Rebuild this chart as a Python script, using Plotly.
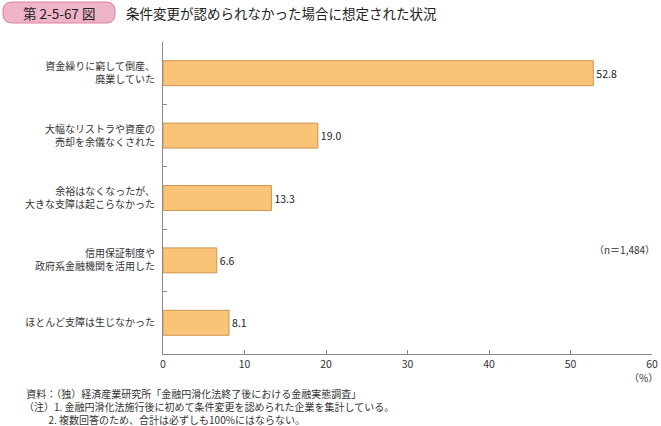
import plotly.graph_objects as go

categories = [
    "資金繰りに窮して倒産、<br>廃業していた",
    "大幅なリストラや資産の<br>売却を余儀なくされた",
    "余裕はなくなったが、<br>大きな支障は起こらなかった",
    "信用保証制度や<br>政府系金融機関を活用した",
    "ほとんど支障は生じなかった",
]
values = [52.8, 19.0, 13.3, 6.6, 8.1]
value_labels = ["52.8", "19.0", "13.3", "6.6", "8.1"]
x_ticks = [0, 10, 20, 30, 40, 50, 60]

FONT = "Noto Sans CJK JP"
TXT = "#333333"
AX = "#8a8a8a"
L, T, W, H = 163, 42, 489, 312  # plot area in pixels


def px(x):
    return (x - L) / W


def py(y):
    return 1 - (y - T) / H


fig = go.Figure()
fig.add_trace(go.Bar(
    y=categories, x=values, orientation="h",
    marker=dict(color="#F9C477", line=dict(color="#CF9550", width=1)),
    width=0.4,
    text=value_labels, textposition="outside",
    textfont=dict(family=FONT, size=10.5, color="#222222"),
    cliponaxis=False, hoverinfo="skip",
))

fig.update_layout(
    width=661, height=426,
    margin=dict(l=L, r=661 - L - W, t=T, b=426 - T - H, autoexpand=False),
    paper_bgcolor="white", plot_bgcolor="white",
    showlegend=False,
    font=dict(family=FONT, size=10, color=TXT),
)
fig.update_xaxes(
    range=[0, 60], tickvals=x_ticks, ticktext=[str(v) for v in x_ticks],
    showgrid=False, zeroline=False, automargin=False,
    showline=True, linecolor=AX, linewidth=1,
    ticks="inside", ticklen=4, tickcolor=AX,
    tickfont=dict(family=FONT, size=10.5, color=TXT),
)
fig.update_yaxes(
    autorange="reversed", type="category", automargin=False,
    showgrid=False, zeroline=False,
    showline=True, linecolor=AX, linewidth=1,
    ticks="inside", ticklen=4, tickcolor=AX, tickson="boundaries",
    tickfont=dict(family=FONT, size=10, color=TXT),
    ticklabelstandoff=5,
)

# Title pill box (pixel offsets from the plot's top-left corner)
x0, x1, yt, yb, r = -160, -48, 40, 19, 9
path = (f"M {x0 + r},{yt} L {x1 - r},{yt} Q {x1},{yt} {x1},{yt - r} "
        f"L {x1},{yb + r} Q {x1},{yb} {x1 - r},{yb} L {x0 + r},{yb} "
        f"Q {x0},{yb} {x0},{yb + r} L {x0},{yt - r} Q {x0},{yt} {x0 + r},{yt} Z")
fig.add_shape(type="path", xref="paper", yref="paper",
    xsizemode="pixel", ysizemode="pixel", xanchor=0, yanchor=1,
    path=path, fillcolor="#EFB4C8", line=dict(color="#D9829F", width=1))
fig.add_annotation(xref="paper", yref="paper", x=px(59), y=py(13),
    xanchor="center", yanchor="middle",
    text="第 2-5-67 図", showarrow=False,
    font=dict(family=FONT, size=13.5, color="#222222"))
fig.add_annotation(xref="paper", yref="paper", x=px(124), y=py(13),
    xanchor="left", yanchor="middle",
    text="条件変更が認められなかった場合に想定された状況",
    showarrow=False, font=dict(family=FONT, size=13.5, color="#222222"))

# n annotation
fig.add_annotation(xref="paper", yref="paper", x=px(657), y=py(249),
    xanchor="right", yanchor="middle", text="（n＝1,484）", showarrow=False,
    font=dict(family=FONT, size=10, color=TXT))
# (%) unit
fig.add_annotation(xref="paper", yref="paper", x=px(660), y=py(377),
    xanchor="right", yanchor="middle", text="（%）", showarrow=False,
    font=dict(family=FONT, size=10, color=TXT))

notes = [
    "\u00a0資料：（独）経済産業研究所「金融円滑化法終了後における金融実態調査」",
    "（注）1. 金融円滑化法施行後に初めて条件変更を認められた企業を集計している。",
    "\u3000\u3000\u00a0\u00a02. 複数回答のため、合計は必ずしも100%にはならない。",
]
fig.add_annotation(xref="paper", yref="paper", x=px(22), y=py(406),
    xanchor="left", yanchor="middle", align="left",
    text="<br>".join(notes), showarrow=False,
    font=dict(family=FONT, size=10, color=TXT))

fig.write_html("out.html", config={"displayModeBar": False},
               post_script="document.body.style.margin='0';")
